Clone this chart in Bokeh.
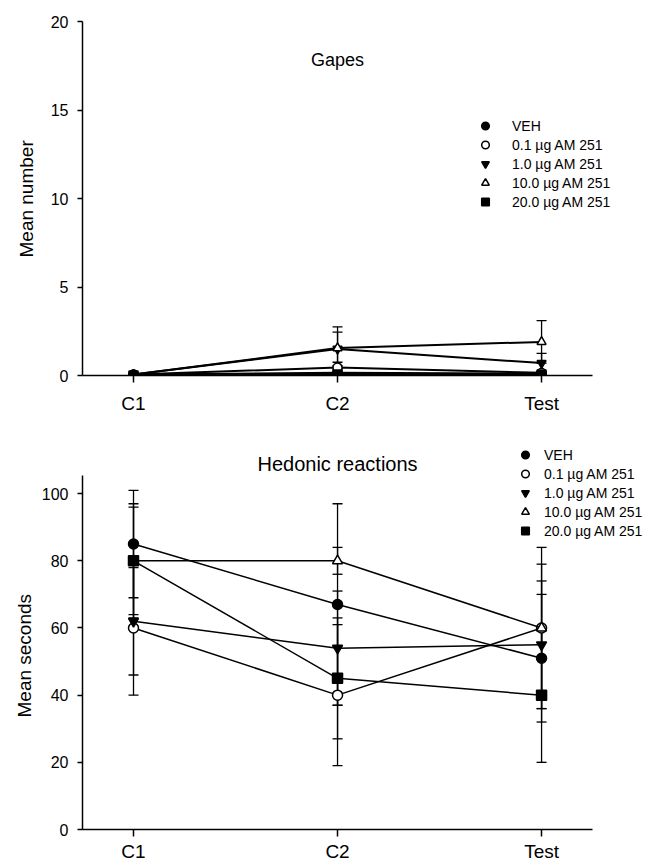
from bokeh.plotting import figure
from bokeh.layouts import column
from bokeh.models import (ColumnDataSource, Range1d, FixedTicker, Whisker, TeeHead,
                          Legend, LegendItem, Label, Title)
from bokeh.embed import file_html
from bokeh.resources import INLINE

# ---------------- data ----------------
sessions = ["C1", "C2", "Test"]
x_pos = [0, 1, 2]
groups = ["VEH", "0.1 µg AM 251", "1.0 µg AM 251", "10.0 µg AM 251", "20.0 µg AM 251"]

# Gapes (mean number) and error
gapes_veh = [0.05, 0.15, 0.1]
gapes_veh_err = [0.05, 0.1, 0.1]
gapes_01 = [0.05, 0.45, 0.15]
gapes_01_err = [0.05, 0.3, 0.1]
gapes_1 = [0.05, 1.5, 0.7]
gapes_1_err = [0.05, 0.95, 0.55]
gapes_10 = [0.05, 1.55, 1.9]
gapes_10_err = [0.05, 1.2, 1.2]
gapes_20 = [0.0, 0.05, 0.05]
gapes_20_err = [0.0, 0.05, 0.05]

# Hedonic reactions (mean seconds) and error
hed_veh = [85, 67, 51]
hed_veh_err = [16, 30, 19]
hed_01 = [60, 40, 60]
hed_01_err = [20, 21, 24]
hed_1 = [62, 54, 55]
hed_1_err = [16, 17, 19]
hed_10 = [80, 80, 60]
hed_10_err = [17, 4, 19]
hed_20 = [80, 45, 40]
hed_20_err = [16, 18, 20]

gapes_ticks = [0, 5, 10, 15, 20]
hed_ticks = [0, 20, 40, 60, 80, 100]

# marker styles: (marker, fill)
styles = [("circle", "black"), ("circle", "white"), ("inverted_triangle", "black"),
          ("triangle", "white"), ("square", "black")]

FONT = "Liberation Sans"


def make_fig(height, bottom, xr, yr, ybounds, ticks, ylabel, ylabel_offset, ylabel_standoff,
             series, lw, xlabel_standoff, legend_loc, legend_standoff, msize):
    p = figure(width=649, height=height, output_backend="svg", toolbar_location=None,
               x_range=Range1d(*xr), y_range=Range1d(*yr),
               min_border_left=82, min_border_right=0, min_border_top=0,
               min_border_bottom=bottom)
    p.outline_line_color = None
    p.xgrid.visible = False
    p.ygrid.visible = False
    p.background_fill_color = "white"

    for ax in (p.xaxis[0], p.yaxis[0]):
        ax.axis_line_color = "black"
        ax.axis_line_width = 1.5
        ax.major_tick_line_color = "black"
        ax.major_tick_line_width = 1.5
        ax.major_tick_in = 0
        ax.minor_tick_line_color = None
        ax.major_label_text_font = FONT
        ax.major_label_text_color = "black"

    p.xaxis.bounds = (-0.25, 2.25)
    p.xaxis.ticker = FixedTicker(ticks=x_pos)
    p.xaxis.major_label_overrides = {x: s for x, s in zip(x_pos, sessions)}
    p.xaxis.major_tick_out = 7
    p.xaxis.major_label_text_font_size = "19px"
    p.xaxis.major_label_standoff = xlabel_standoff

    p.yaxis.bounds = ybounds
    p.yaxis.ticker = FixedTicker(ticks=ticks)
    p.yaxis.major_tick_out = 5
    p.yaxis.major_label_text_font_size = "16px"
    p.yaxis.major_label_standoff = 9

    # y-axis title, placed along the axis extent (not the whole frame)
    p.add_layout(Title(text=ylabel, align="left", offset=ylabel_offset,
                       text_font=FONT, text_font_size="19px",
                       text_font_style="normal", text_color="black",
                       standoff=ylabel_standoff), "left")

    items = []
    for (vals, errs), (mk, fill), name in zip(series, styles, groups):
        src = ColumnDataSource(dict(x=x_pos, y=vals,
                                    upper=[v + e for v, e in zip(vals, errs)],
                                    lower=[v - e for v, e in zip(vals, errs)]))
        w = Whisker(source=src, base="x", upper="upper", lower="lower",
                    line_color="black", line_width=1.3,
                    upper_head=TeeHead(size=10, line_color="black", line_width=1.3),
                    lower_head=TeeHead(size=10, line_color="black", line_width=1.3))
        p.add_layout(w)
        p.line("x", "y", source=src, line_color="black", line_width=lw)
        r = p.scatter("x", "y", source=src, marker=mk, size=msize, fill_color=fill,
                      line_color="black", line_width=1.5)
        items.append(LegendItem(label=name, renderers=[r]))

    leg = Legend(items=items, location=legend_loc, orientation="vertical",
                 glyph_width=24, glyph_height=19, label_height=19, spacing=0,
                 padding=0, margin=0, label_standoff=legend_standoff,
                 label_text_font=FONT, label_text_font_size="14px",
                 label_text_color="black", border_line_color=None,
                 background_fill_alpha=0)
    p.add_layout(leg, "center")
    return p


gapes_series = [(gapes_veh, gapes_veh_err), (gapes_01, gapes_01_err), (gapes_1, gapes_1_err),
                (gapes_10, gapes_10_err), (gapes_20, gapes_20_err)]
hed_series = [(hed_veh, hed_veh_err), (hed_01, hed_01_err), (hed_1, hed_1_err),
              (hed_10, hed_10_err), (hed_20, hed_20_err)]

# top: frame 0..375 px tall, 0 at 375, 20 at 21
p1 = make_fig(428, 53, (-0.25, 2.529), (0, 21.19), (0, 20), gapes_ticks, "Mean number", 118, 22,
              gapes_series, 2.0, 10, (391, 164), 15, 9)
p1.add_layout(Label(x=1, y=17.8, text="Gapes", text_align="center",
                    text_baseline="middle", text_font=FONT, text_font_size="18px",
                    text_color="black"))

# bottom: frame 428..829, 0 at 829, 100 at 493
p2 = make_fig(436, 35, (-0.25, 2.529), (0, 119.4), (0, 105.5), hed_ticks, "Mean seconds", 112, 7,
              hed_series, 1.5, 4, (431, 289), 7, 10)
p2.add_layout(Label(x=1, y=108.9, text="Hedonic reactions", text_align="center",
                    text_baseline="middle", text_font=FONT, text_font_size="20px",
                    text_color="black"))

layout = column(p1, p2, spacing=0)
open("out.html", "w").write(file_html(layout, INLINE))
